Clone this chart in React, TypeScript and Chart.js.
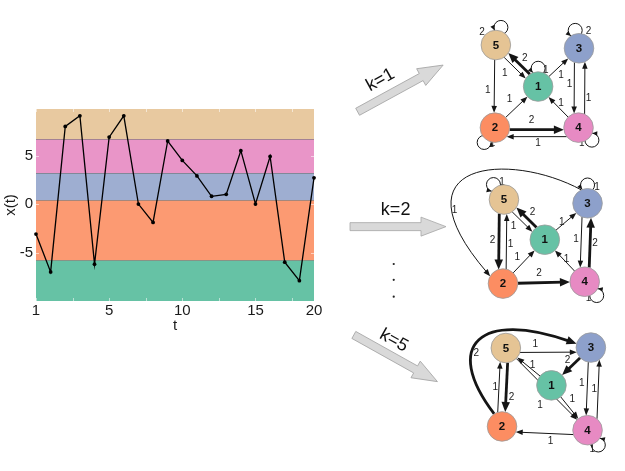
import React, { useEffect, useRef } from "react";
import { Chart, registerables } from "chart.js";
Chart.register(...registerables);

const W = 625;
const H = 471;

// ---------- time-series panel data ----------
const tSteps = ["1","2","3","4","5","6","7","8","9","10","11","12","13","14","15","16","17","18","19","20"];
const xTickLabels = ["1","","","","","5","","","","","10","","","","","15","","","","20"];
const xValues = [-3.1, -7.0, 8.0, 9.1, -6.2, 6.9, 9.1, 0.0, -1.9, 6.5, 4.5, 2.9, 0.8, 1.0, 5.5, 0.0, 4.9, -6.0, -7.9, 2.7];
const yTickValues = [-5, 0, 5];
const bandEdges = [-10, -5.8, 0.4, 3.2, 6.7, 9.8];
const bandColors = ["#66c2a5", "#fc9a72", "#9eaed1", "#e995c8", "#e8c9a0"];
const minorTickIdx = [0, 2.5, 5, 7.5, 10, 12.5, 15, 17.5, 19];

// ---------- transition graphs data ----------
const nodeIds = [1, 2, 3, 4, 5];
const nodeColors = ["#66c2a5", "#fc8d62", "#8da0cb", "#e78ac3", "#e5c494"];
const stepLabels = ["k=1", "k=2", "k=5"];
// [from, to, weight]
const edgesK1 = [[5,1,1],[1,5,2],[1,3,1],[5,2,1],[2,1,1],[2,4,2],[4,2,1],[4,1,1],[3,4,1],[4,3,1]];
const loopsK1 = [[5,2],[3,2],[1,1],[2,1],[4,1]];
const edgesK2 = [[3,2,1],[5,1,1],[1,5,2],[1,3,1],[5,2,2],[2,5,1],[2,1,1],[2,4,2],[4,1,1],[3,4,1],[4,3,2]];
const loopsK2 = [[5,1],[3,1],[4,1]];
const edgesK5 = [[2,3,2],[5,3,1],[3,1,2],[1,5,1],[5,4,1],[1,4,1],[2,5,1],[5,2,2],[3,4,1],[4,3,1],[4,2,1]];
const loopsK5 = [[4,1]];

// ---------- layout (positions in overlay units) ----------
const layoutK1 = {
  nodes: [[550,76],[504.5,120],[593,35],[592.5,120],[505.5,31.5]],
  edges: [
    { off: 3, l: [515,62] }, { off: 3, l: [536,46] }, { off: 0, l: [574,64] },
    { off: 1, l: [497,80] }, { off: 0, l: [520,90] }, { off: 2, l: [543,112] },
    { off: -9, l: [550,137] }, { off: 0, l: [574,94] }, { off: 4.5, l: [583,74] },
    { off: 6, l: [603,88] },
  ],
  loops: [[-74,491,18],[-102,603,17],[-90,558,58],[126,502,137],[43,596,137]],
};
const layoutK2 = {
  nodes: [[557,240],[513,287],[602,201],[599,285],[514,197]],
  edges: [
    { off: 0, l: [462,208], curve: [-115, 520,145, 395,155, -150] },
    { off: 3, l: [524,226] }, { off: 3, l: [544,211] }, { off: 0, l: [575,221] },
    { off: 4.5, l: [502,241] }, { off: 3, l: [521,245] }, { off: 0, l: [528,259] },
    { off: 0, l: [551,276] }, { off: 0, l: [580,261] }, { off: 5, l: [590,240] },
    { off: 4, l: [610,244] },
  ],
  loops: [[-125,512,178],[-90,612,184],[49,603,303]],
};
const layoutK5 = {
  nodes: [[564,396],[512,440],[605.5,355.5],[602,444],[516,356]],
  edges: [
    { off: 0, l: [485,362], curve: [-122, 448,352, 490,315, -165] },
    { off: 4.5, l: [547,352] }, { off: 0, l: [581,369] }, { off: 0, l: [544,374] },
    { off: 0, l: [552,417] }, { off: 0, l: [586,411] }, { off: -5, l: [505,398] },
    { off: -2.5, l: [522,409] }, { off: 2, l: [596,394] }, { off: 9, l: [609,400] },
    { off: -5, l: [563,456] },
  ],
  loops: [[54,607,464]],
};
const graphs = [
  { edges: edgesK1, loops: loopsK1, layout: layoutK1 },
  { edges: edgesK2, loops: loopsK2, layout: layoutK2 },
  { edges: edgesK5, loops: loopsK5, layout: layoutK5 },
];
const bigArrows = [
  { from: [360,103], to: [450,53], label: [384,69], rot: -29 },
  { from: [352,226], to: [453,226], label: [400,208], rot: 0 },
  { from: [356,342], to: [444,392], label: [398,348], rot: 29 },
];
const dotsPos = [[398,266],[398,283],[398,301]];
const NODE_R = 14.8;

const FONT = "'Liberation Sans', Arial, Helvetica, sans-serif";

// ---------- plugins ----------
const bandPlugin = {
  id: "bands",
  beforeDatasetsDraw(chart: any) {
    const { ctx, chartArea, scales } = chart;
    const { left, right, top, bottom } = chartArea;
    const y = scales.y;
    const x = scales.x;
    ctx.save();
    for (let i = 0; i < bandColors.length; i++) {
      const y0 = y.getPixelForValue(bandEdges[i]);
      const y1 = y.getPixelForValue(bandEdges[i + 1]);
      ctx.fillStyle = bandColors[i];
      ctx.fillRect(left, y1, right - left, y0 - y1);
    }
    ctx.strokeStyle = "rgba(105,105,105,0.55)";
    ctx.lineWidth = 1;
    for (let i = 1; i < bandEdges.length - 1; i++) {
      const yy = Math.round(y.getPixelForValue(bandEdges[i])) + 0.5;
      ctx.beginPath();
      ctx.moveTo(left, yy);
      ctx.lineTo(right, yy);
      ctx.stroke();
    }
    ctx.strokeStyle = "rgba(255,255,255,0.55)";
    for (const v of minorTickIdx) {
      const xx = Math.round(x.getPixelForValue(v)) + 0.5;
      ctx.beginPath();
      ctx.moveTo(xx, bottom);
      ctx.lineTo(xx, bottom - 3);
      ctx.moveTo(xx, top);
      ctx.lineTo(xx, top + 3);
      ctx.stroke();
    }
    for (const v of yTickValues) {
      const yy = Math.round(y.getPixelForValue(v)) + 0.5;
      ctx.beginPath();
      ctx.moveTo(left, yy);
      ctx.lineTo(left + 3, yy);
      ctx.moveTo(right, yy);
      ctx.lineTo(right - 3, yy);
      ctx.stroke();
    }
    ctx.restore();
  },
};

function arrowHead(ctx: any, ex: number, ey: number, ux: number, uy: number, hl: number, hw: number) {
  const px = -uy, py = ux;
  ctx.beginPath();
  ctx.moveTo(ex, ey);
  ctx.lineTo(ex - ux * hl + px * hw / 2, ey - uy * hl + py * hw / 2);
  ctx.lineTo(ex - ux * hl - px * hw / 2, ey - uy * hl - py * hw / 2);
  ctx.closePath();
  ctx.fill();
}

const graphPlugin = {
  id: "graphs",
  beforeDatasetsDraw(chart: any) {
    const { ctx, scales } = chart;
    const X = (v: number) => scales.x.getPixelForValue(v);
    const Y = (v: number) => scales.y.getPixelForValue(v);
    ctx.save();
    // big gray arrows and step labels
    bigArrows.forEach((a, i) => {
      const x0 = X(a.from[0]), y0 = Y(a.from[1]), x1 = X(a.to[0]), y1 = Y(a.to[1]);
      const L = Math.hypot(x1 - x0, y1 - y0);
      const ang = Math.atan2(y1 - y0, x1 - x0);
      const hl = 25, hw = 9.5, sw = 4;
      ctx.save();
      ctx.translate(x0, y0);
      ctx.rotate(ang);
      ctx.beginPath();
      ctx.moveTo(0, -sw);
      ctx.lineTo(L - hl, -sw);
      ctx.lineTo(L - hl, -hw);
      ctx.lineTo(L, 0);
      ctx.lineTo(L - hl, hw);
      ctx.lineTo(L - hl, sw);
      ctx.lineTo(0, sw);
      ctx.closePath();
      ctx.fillStyle = "#d9d9d9";
      ctx.fill();
      ctx.strokeStyle = "#a6a6a6";
      ctx.lineWidth = 0.8;
      ctx.stroke();
      ctx.restore();
      ctx.save();
      ctx.translate(X(a.label[0]), Y(a.label[1]));
      ctx.rotate((a.rot * Math.PI) / 180);
      ctx.fillStyle = "#111";
      ctx.font = `18px ${FONT}`;
      ctx.textAlign = "center";
      ctx.textBaseline = "middle";
      ctx.fillText(stepLabels[i], 0, 0);
      ctx.restore();
    });
    ctx.fillStyle = "#222";
    for (const d of dotsPos) {
      ctx.beginPath();
      ctx.arc(X(d[0]), Y(d[1]), 1.1, 0, Math.PI * 2);
      ctx.fill();
    }
    // edges
    ctx.strokeStyle = "#151515";
    ctx.fillStyle = "#151515";
    const r = NODE_R;
    for (const g of graphs) {
      const N = g.layout.nodes.map((p) => [X(p[0]), Y(p[1])]);
      g.edges.forEach((e, i) => {
        const geo: any = g.layout.edges[i];
        const P = N[e[0] - 1];
        const Q = N[e[1] - 1];
        const thick = e[2] > 1;
        const hl = thick ? 10 : 7;
        const hw = thick ? 8.5 : 5.5;
        ctx.lineWidth = thick ? 2.8 : 1;
        if (geo.curve) {
          const [a0, c1x, c1y, c2x, c2y, a1] = geo.curve;
          const S = [P[0] + r * Math.cos((a0 * Math.PI) / 180), P[1] + r * Math.sin((a0 * Math.PI) / 180)];
          const E = [Q[0] + r * Math.cos((a1 * Math.PI) / 180), Q[1] + r * Math.sin((a1 * Math.PI) / 180)];
          const C1 = [X(c1x), Y(c1y)], C2 = [X(c2x), Y(c2y)];
          const tx = E[0] - C2[0], ty = E[1] - C2[1];
          const tl = Math.hypot(tx, ty);
          const ux = tx / tl, uy = ty / tl;
          ctx.beginPath();
          ctx.moveTo(S[0], S[1]);
          ctx.bezierCurveTo(C1[0], C1[1], C2[0], C2[1], E[0] - ux * hl * 0.7, E[1] - uy * hl * 0.7);
          ctx.stroke();
          arrowHead(ctx, E[0], E[1], ux, uy, hl, hw);
        } else {
          const dx = Q[0] - P[0], dy = Q[1] - P[1];
          const L = Math.hypot(dx, dy);
          const ux = dx / L, uy = dy / L;
          const px = -uy, py = ux;
          const off = geo.off;
          const d = Math.sqrt(Math.max(r * r - off * off, 0));
          const sx = P[0] + px * off + ux * d, sy = P[1] + py * off + uy * d;
          const ex = Q[0] + px * off - ux * d, ey = Q[1] + py * off - uy * d;
          ctx.beginPath();
          ctx.moveTo(sx, sy);
          ctx.lineTo(ex - ux * hl * 0.7, ey - uy * hl * 0.7);
          ctx.stroke();
          arrowHead(ctx, ex, ey, ux, uy, hl, hw);
        }
      });
      // self loops
      g.loops.forEach((lp, i) => {
        const geo = g.layout.loops[i];
        const C = N[lp[0] - 1];
        const a = (geo[0] * Math.PI) / 180;
        const rl = 7, D = r + 3.5;
        const cx = C[0] + Math.cos(a) * D, cy = C[1] + Math.sin(a) * D;
        ctx.lineWidth = 1;
        ctx.beginPath();
        ctx.arc(cx, cy, rl, 0, Math.PI * 2);
        ctx.stroke();
        const th = Math.acos((D * D + r * r - rl * rl) / (2 * D * r));
        const ia = a - th;
        const ix = C[0] + Math.cos(ia) * r, iy = C[1] + Math.sin(ia) * r;
        const phi = Math.atan2(iy - cy, ix - cx);
        let ux = -Math.sin(phi), uy = Math.cos(phi);
        if (ux * (C[0] - ix) + uy * (C[1] - iy) < 0) { ux = -ux; uy = -uy; }
        arrowHead(ctx, ix, iy, ux, uy, 5, 4.5);
      });
    }
    // edge weight labels
    ctx.fillStyle = "#222";
    ctx.font = `10px ${FONT}`;
    ctx.textAlign = "center";
    ctx.textBaseline = "middle";
    for (const g of graphs) {
      g.edges.forEach((e, i) => {
        const geo: any = g.layout.edges[i];
        ctx.fillText(String(e[2]), X(geo.l[0]), Y(geo.l[1]));
      });
      g.loops.forEach((lp, i) => {
        const geo = g.layout.loops[i];
        ctx.fillText(String(lp[1]), X(geo[1]), Y(geo[2]));
      });
    }
    ctx.restore();
  },
  afterDatasetsDraw(chart: any) {
    const { ctx, scales } = chart;
    ctx.save();
    ctx.fillStyle = "#111";
    ctx.font = `bold 11.5px ${FONT}`;
    ctx.textAlign = "center";
    ctx.textBaseline = "middle";
    for (const g of graphs) {
      g.layout.nodes.forEach((p, i) => {
        ctx.fillText(String(nodeIds[i]), scales.x.getPixelForValue(p[0]), scales.y.getPixelForValue(p[1]) + 0.5);
      });
    }
    ctx.restore();
  },
};

export default function App() {
  const lineRef = useRef<HTMLCanvasElement>(null);
  const graphRef = useRef<HTMLCanvasElement>(null);

  useEffect(() => {
    const lineChart = new Chart(lineRef.current as HTMLCanvasElement, {
      type: "line",
      data: {
        labels: tSteps,
        datasets: [
          {
            data: xValues,
            borderColor: "#000",
            borderWidth: 1.3,
            pointRadius: 1.9,
            pointBackgroundColor: "#000",
            pointBorderWidth: 0,
            tension: 0,
            fill: false,
          },
        ],
      },
      options: {
        responsive: false,
        animation: false,
        events: [],
        layout: { padding: { left: 0, top: 109, right: W - 314, bottom: 134 } },
        plugins: { legend: { display: false }, tooltip: { enabled: false } },
        scales: {
          x: {
            type: "category",
            offset: false,
            grid: { display: false, drawTicks: false },
            border: { display: false },
            afterFit: (s: any) => { s.height = 36; },
            ticks: {
              autoSkip: false,
              maxRotation: 0,
              padding: 1,
              color: "#1a1a1a",
              font: { family: FONT, size: 15 },
              callback: (_v: any, i: number) => xTickLabels[i],
            },
            title: { display: true, text: "t", color: "#1a1a1a", font: { family: FONT, size: 15 }, padding: { top: 0, bottom: 2 } },
          },
          y: {
            type: "linear",
            min: bandEdges[0],
            max: bandEdges[bandEdges.length - 1],
            grid: { display: false, drawTicks: false },
            border: { display: false },
            afterFit: (s: any) => { s.width = 36; },
            afterBuildTicks: (s: any) => { s.ticks = yTickValues.map((v) => ({ value: v })); },
            ticks: { padding: 3, color: "#1a1a1a", font: { family: FONT, size: 15 } },
            title: { display: true, text: "x(t)", color: "#1a1a1a", font: { family: FONT, size: 15 }, padding: { top: 2, bottom: 0 } },
          },
        },
      } as any,
      plugins: [bandPlugin],
    });

    const graphChart = new Chart(graphRef.current as HTMLCanvasElement, {
      type: "scatter",
      data: {
        datasets: graphs.map((g) => ({
          data: g.layout.nodes.map((p) => ({ x: p[0], y: p[1] })),
          pointRadius: NODE_R,
          pointBackgroundColor: nodeColors,
          pointBorderColor: "#9a9a9a",
          pointBorderWidth: 0.8,
          showLine: false,
        })),
      },
      options: {
        responsive: false,
        animation: false,
        events: [],
        layout: { padding: 0 },
        plugins: { legend: { display: false }, tooltip: { enabled: false } },
        scales: {
          x: { type: "linear", min: 0, max: W, display: false },
          y: { type: "linear", min: 0, max: H, reverse: true, display: false },
        },
      } as any,
      plugins: [graphPlugin],
    });

    return () => {
      lineChart.destroy();
      graphChart.destroy();
    };
  }, []);

  return (
    <div style={{ position: "fixed", left: 0, top: 0, width: W, height: H, background: "#fff" }}>
      <canvas ref={lineRef} width={W} height={H} style={{ position: "absolute", left: 0, top: 0 }} />
      <canvas ref={graphRef} width={W} height={H} style={{ position: "absolute", left: 0, top: 0, pointerEvents: "none" }} />
    </div>
  );
}
